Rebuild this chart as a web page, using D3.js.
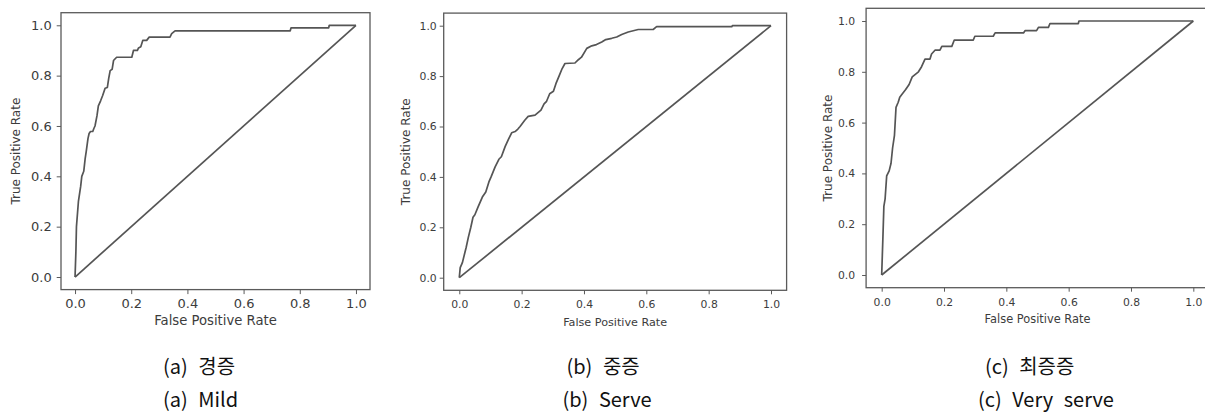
<!DOCTYPE html>
<html><head><meta charset="utf-8">
<script src="https://cdn.jsdelivr.net/npm/d3@7"></script>
<style>
html,body{margin:0;padding:0;background:#fff;overflow:hidden;}
svg{display:block;}
</style></head>
<body>
<svg id="chart" width="1205" height="412"></svg>
<script>
// ---------- data ----------
const tickValues = [0.0, 0.2, 0.4, 0.6, 0.8, 1.0];
const xLabel = "False Positive Rate";
const yLabel = "True Positive Rate";
const captionsKo = ["(a) 경증", "(b) 중증", "(c) 최증증"];
const captionsEn = ["(a) Mild", "(b) Serve", "(c) Very serve"];
const chanceFpr = [0, 1];
const chanceTpr = [0, 1];

const mildFpr = [0,0.003,0.005,0.012,0.02,0.024,0.031,0.036,0.04,0.046,0.05,0.055,0.063,0.067,0.071,0.078,0.083,0.091,0.098,0.107,0.115,0.12,0.125,0.132,0.137,0.148,0.202,0.208,0.222,0.226,0.234,0.241,0.255,0.264,0.338,0.344,0.356,0.766,0.769,0.903,0.905,1];
const mildTpr = [0,0.1,0.2,0.3,0.36,0.4,0.42,0.47,0.5,0.55,0.57,0.578,0.578,0.59,0.6,0.64,0.68,0.70,0.72,0.75,0.753,0.79,0.82,0.825,0.86,0.873,0.873,0.9,0.9,0.91,0.915,0.94,0.94,0.953,0.953,0.967,0.978,0.978,0.99,0.99,1.0,1];

const serveFpr = [0,0.003,0.01,0.018,0.022,0.029,0.037,0.044,0.05,0.06,0.074,0.085,0.095,0.102,0.115,0.127,0.135,0.147,0.158,0.168,0.179,0.188,0.195,0.21,0.221,0.243,0.262,0.272,0.28,0.29,0.302,0.31,0.32,0.33,0.339,0.371,0.382,0.392,0.409,0.425,0.44,0.457,0.47,0.489,0.505,0.521,0.542,0.574,0.622,0.633,0.874,0.876,1];
const serveTpr = [0,0.04,0.06,0.1,0.12,0.16,0.2,0.24,0.25,0.28,0.32,0.34,0.38,0.4,0.44,0.47,0.48,0.52,0.55,0.575,0.58,0.59,0.6,0.625,0.64,0.645,0.665,0.69,0.7,0.73,0.74,0.77,0.8,0.83,0.85,0.852,0.865,0.875,0.91,0.92,0.925,0.935,0.945,0.95,0.955,0.965,0.975,0.985,0.985,0.996,0.996,1.0,1];

const veryFpr = [0,0.004,0.007,0.011,0.016,0.024,0.03,0.035,0.041,0.046,0.053,0.058,0.064,0.077,0.088,0.098,0.108,0.118,0.128,0.139,0.155,0.16,0.171,0.187,0.193,0.225,0.233,0.294,0.299,0.358,0.364,0.455,0.46,0.497,0.503,0.535,0.54,0.631,0.633,1];
const veryTpr = [0,0.15,0.27,0.3,0.39,0.41,0.44,0.5,0.55,0.66,0.68,0.7,0.71,0.73,0.75,0.78,0.79,0.8,0.82,0.85,0.85,0.87,0.885,0.885,0.9,0.9,0.925,0.925,0.94,0.94,0.953,0.953,0.962,0.962,0.975,0.975,0.99,0.99,1.0,1];

// ---------- layout ----------
const panels = [
  {l:61, r:370, t:12.7, b:289.6, fs:13, xfs:13.2, yfs:12, xTick:4.5, xPad:4.5, yTick:4.3, yPad:5,
   yLabX:16, xLabY:320, capX1:163, capX2:163, fpr:mildFpr, tpr:mildTpr},
  {l:443.7, r:786.6, t:13.1, b:290.3, fs:10.8, xfs:11.2, yfs:12, xTick:4, xPad:6.5, yTick:4, yPad:3,
   yLabX:405.5, xLabY:321.7, capX1:566.5, capX2:562.5, fpr:serveFpr, tpr:serveTpr},
  {l:866.1, r:1208.9, t:8.3, b:287.7, fs:10.8, xfs:11.4, yfs:12, xTick:4, xPad:6.5, yTick:4, yPad:7,
   yLabX:827.7, xLabY:319, capX1:985, capX2:978, fpr:veryFpr, tpr:veryTpr}
];

const svg = d3.select("#chart");
const lineCol = "#555", frameCol = "#5a5a5a", textCol = "#3c3c3c";
const font = "DejaVu Sans, sans-serif";

panels.forEach((p, i) => {
  const x = d3.scaleLinear().domain([-0.05, 1.05]).range([p.l, p.r]);
  const y = d3.scaleLinear().domain([-0.05, 1.05]).range([p.b, p.t]);
  const g = svg.append("g");

  // curves
  const line = d3.line().x(d => x(d[0])).y(d => y(d[1]));
  const roc = p.fpr.map((f, k) => [f, p.tpr[k]]);
  const chance = chanceFpr.map((f, k) => [f, chanceTpr[k]]);
  g.append("path").attr("d", line(chance)).attr("fill", "none")
    .attr("stroke", lineCol).attr("stroke-width", 1.7);
  g.append("path").attr("d", line(roc)).attr("fill", "none")
    .attr("stroke", lineCol).attr("stroke-width", 1.7).attr("stroke-linejoin", "round");

  // frame
  g.append("rect").attr("x", p.l).attr("y", p.t).attr("width", p.r - p.l).attr("height", p.b - p.t)
    .attr("fill", "none").attr("stroke", frameCol).attr("stroke-width", 1.3);

  // axes
  const fmt = d3.format(".1f");
  const xa = g.append("g").attr("transform", `translate(0,${p.b})`)
    .call(d3.axisBottom(x).tickValues(tickValues).tickFormat(fmt).tickSize(p.xTick).tickPadding(p.xPad));
  const ya = g.append("g").attr("transform", `translate(${p.l},0)`)
    .call(d3.axisLeft(y).tickValues(tickValues).tickFormat(fmt).tickSize(p.yTick).tickPadding(p.yPad));
  [xa, ya].forEach(a => {
    a.select(".domain").remove();
    a.selectAll("line").attr("stroke", frameCol).attr("stroke-width", 1);
    a.selectAll("text").attr("fill", textCol).style("font-family", font).style("font-size", p.fs + "px");
  });

  // axis titles
  g.append("text").attr("x", (p.l + p.r) / 2).attr("y", p.xLabY).attr("dy", "0.36em")
    .attr("text-anchor", "middle").attr("fill", textCol)
    .style("font-family", font).style("font-size", p.xfs + "px").text(xLabel);
  g.append("text").attr("transform", `translate(${p.yLabX},${(p.t + p.b) / 2}) rotate(-90)`)
    .attr("dy", "0.36em").attr("text-anchor", "middle").attr("fill", textCol)
    .style("font-family", font).style("font-size", p.yfs + "px").text(yLabel);

  // captions
  const capFont = "'Noto Sans CJK KR', sans-serif";
  [[captionsKo[i], p.capX1, 373.5], [captionsEn[i], p.capX2, 406.5]].forEach(([s, cx, cy]) => {
    const parts = s.split(" ");
    const t = svg.append("text").attr("x", cx).attr("y", cy).attr("fill", "#111")
      .style("font-family", capFont).style("font-size", "20px");
    parts.forEach((w, k) => {
      t.append("tspan").attr("dx", k === 0 ? 0 : 6).text(k < parts.length - 1 ? w + " " : w);
    });
  });
});
</script>
</body></html>
